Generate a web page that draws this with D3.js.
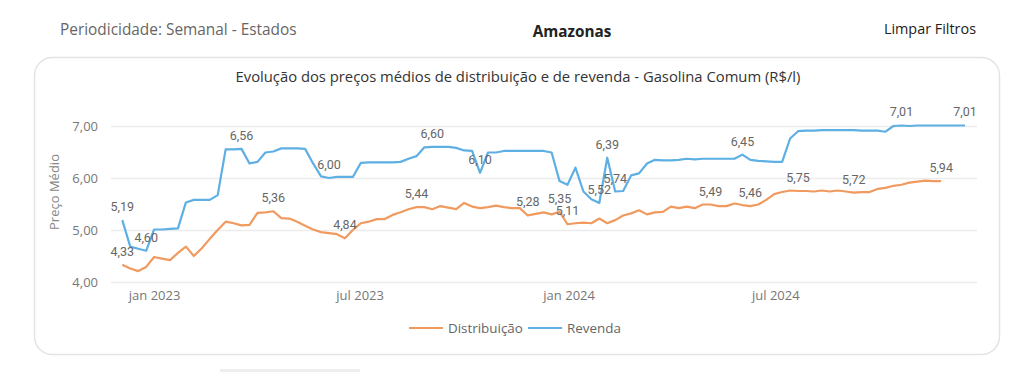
<!DOCTYPE html>
<html>
<head>
<meta charset="utf-8">
<script src="https://cdn.jsdelivr.net/npm/d3@7"></script>
<style>
  body { margin: 0; background: #fff; }
  svg { display: block; }
</style>
</head>
<body>
<script>
// weekly average prices, Amazonas, gasolina comum (R$/l), weeks starting 04/12/2022
const firstWeek = new Date(2022, 11, 4);

const revenda = [
  5.19, 4.68, 4.64, 4.60, 5.01, 5.01, 5.02, 5.03, 5.53, 5.58,
  5.58, 5.58, 5.67, 6.55, 6.55, 6.56, 6.28, 6.31, 6.49, 6.51,
  6.57, 6.57, 6.57, 6.56, 6.28, 6.03, 6.00, 6.02, 6.02, 6.02,
  6.29, 6.30, 6.30, 6.30, 6.30, 6.31, 6.37, 6.42, 6.59, 6.60,
  6.60, 6.60, 6.58, 6.53, 6.52, 6.10, 6.49, 6.49, 6.52, 6.52,
  6.52, 6.52, 6.52, 6.52, 6.49, 5.94, 5.87, 6.20, 5.74, 5.59,
  5.52, 6.39, 5.74, 5.75, 6.05, 6.09, 6.28, 6.35, 6.34, 6.34,
  6.35, 6.37, 6.36, 6.37, 6.37, 6.37, 6.37, 6.37, 6.45, 6.35,
  6.33, 6.32, 6.31, 6.31, 6.76, 6.90, 6.91, 6.91, 6.92, 6.92,
  6.92, 6.92, 6.92, 6.91, 6.91, 6.91, 6.89, 7.00, 7.01, 7.00,
  7.01, 7.01, 7.01, 7.01, 7.01, 7.01, 7.01
];

const distribuicao = [
  4.33, 4.26, 4.21, 4.29, 4.48, 4.45, 4.42, 4.56, 4.68, 4.50,
  4.65, 4.83, 5.00, 5.16, 5.13, 5.09, 5.10, 5.33, 5.34, 5.36,
  5.23, 5.22, 5.16, 5.08, 5.01, 4.96, 4.94, 4.92, 4.84, 5.00,
  5.13, 5.16, 5.21, 5.21, 5.29, 5.34, 5.40, 5.44, 5.44, 5.40,
  5.46, 5.43, 5.40, 5.52, 5.45, 5.42, 5.44, 5.47, 5.44, 5.42,
  5.42, 5.28, 5.31, 5.34, 5.30, 5.35, 5.11, 5.13, 5.14, 5.13,
  5.22, 5.13, 5.19, 5.28, 5.32, 5.38, 5.30, 5.34, 5.35, 5.45,
  5.42, 5.45, 5.42, 5.49, 5.49, 5.46, 5.46, 5.51, 5.48, 5.46,
  5.49, 5.58, 5.69, 5.73, 5.76, 5.75, 5.75, 5.74, 5.76, 5.74,
  5.76, 5.74, 5.72, 5.73, 5.73, 5.79, 5.81, 5.85, 5.87, 5.91,
  5.93, 5.95, 5.94, 5.94
];

// weeks that get a data label
const revendaLabelWeeks = [0, 3, 15, 26, 39, 45, 60, 61, 62, 78, 98, 106];
const distribuicaoLabelWeeks = [0, 19, 28, 37, 51, 55, 56, 74, 79, 85, 92, 103];

const yTicks = [4, 5, 6, 7];
const xTickDates = [new Date(2023, 0, 1), new Date(2023, 6, 1), new Date(2024, 0, 1), new Date(2024, 6, 1)];
const xTickLabels = ["jan 2023", "jul 2023", "jan 2024", "jul 2024"];

const seriesNames = ["Distribuição", "Revenda"];
const colors = ["#F09A5F", "#5EAFE3"];

const ptBR = d3.formatLocale({decimal: ",", thousands: ".", grouping: [3], currency: ["R$ ", ""]});
const fmt = ptBR.format(".2f");

const width = 1024, height = 372;
const svg = d3.select("body").append("svg")
    .attr("width", width)
    .attr("height", height);

// header
svg.append("text")
    .attr("x", 60).attr("y", 35)
    .style("font-family", "'Open Sans', sans-serif")
    .style("font-size", "15.4px")
    .attr("fill", "#666")
    .text("Periodicidade: Semanal - Estados");

svg.append("text")
    .attr("x", 572).attr("y", 37)
    .attr("text-anchor", "middle")
    .style("font-family", "'Open Sans', sans-serif")
    .style("font-size", "15.3px")
    .style("font-weight", "bold")
    .attr("fill", "#222")
    .text("Amazonas");

svg.append("text")
    .attr("x", 976).attr("y", 34)
    .attr("text-anchor", "end")
    .style("font-family", "'Open Sans', sans-serif")
    .style("font-size", "14.4px")
    .attr("fill", "#222")
    .text("Limpar Filtros");

// card
svg.append("rect")
    .attr("x", 34.5).attr("y", 57.5)
    .attr("width", 965).attr("height", 297)
    .attr("rx", 18)
    .attr("fill", "#fff")
    .attr("stroke", "#e4e4e4")
    .attr("stroke-width", 1.5);

svg.append("rect")
    .attr("x", 220).attr("y", 369)
    .attr("width", 140).attr("height", 3)
    .attr("fill", "#eeeeee");

svg.append("text")
    .attr("x", 518).attr("y", 82)
    .attr("text-anchor", "middle")
    .style("font-family", "'Open Sans', sans-serif")
    .style("font-size", "14.8px")
    .attr("fill", "#333")
    .text("Evolução dos preços médios de distribuição e de revenda - Gasolina Comum (R$/l)");

// scales
const weeks = d3.range(revenda.length).map(i => d3.timeWeek.offset(firstWeek, i));
const x = d3.scaleTime()
    .domain([weeks[0], weeks[weeks.length - 1]])
    .range([122.3, 965]);
const y = d3.scaleLinear()
    .domain([4, 7])
    .range([282, 126]);

const plotLeft = 111, plotRight = 977;

// y axis + gridlines
const yAxis = svg.append("g")
    .attr("transform", `translate(${plotLeft},0)`)
    .call(d3.axisLeft(y)
        .tickValues(yTicks)
        .tickFormat(fmt)
        .tickSize(-(plotRight - plotLeft))
        .tickPadding(13));
yAxis.select(".domain").remove();
yAxis.selectAll(".tick line").attr("stroke", "#ececec").attr("stroke-width", 1.5);
yAxis.selectAll(".tick text")
    .attr("fill", "#777")
    .style("font-family", "'Open Sans', sans-serif")
    .style("font-size", "13px");

svg.append("text")
    .attr("transform", "translate(59,192) rotate(-90)")
    .attr("text-anchor", "middle")
    .style("font-family", "'Open Sans', sans-serif")
    .style("font-size", "13px")
    .attr("fill", "#888")
    .text("Preço Médio");

// x axis
const xAxis = svg.append("g")
    .attr("transform", "translate(0,282)")
    .call(d3.axisBottom(x)
        .tickValues(xTickDates)
        .tickFormat((d, i) => xTickLabels[i])
        .tickSize(0)
        .tickPadding(9));
xAxis.select(".domain").remove();
xAxis.selectAll(".tick text")
    .attr("fill", "#777")
    .style("font-family", "'Open Sans', sans-serif")
    .style("font-size", "13px");

// lines
const line = d3.line()
    .x((d, i) => x(weeks[i]))
    .y(d => y(d));

[distribuicao, revenda].forEach((s, k) => {
    svg.append("path")
        .datum(s)
        .attr("fill", "none")
        .attr("stroke", colors[k])
        .attr("stroke-width", 2.2)
        .attr("stroke-linejoin", "round")
        .attr("d", line);
});

// data labels
const labelSets = [
    {values: distribuicao, idx: distribuicaoLabelWeeks},
    {values: revenda, idx: revendaLabelWeeks}
];
labelSets.forEach(set => {
    svg.append("g")
        .selectAll("text")
        .data(set.idx)
        .enter()
        .append("text")
        .attr("x", i => x(weeks[i]))
        .attr("y", i => y(set.values[i]) - 9)
        .attr("text-anchor", "middle")
        .style("font-family", "Roboto, sans-serif")
        .style("font-size", "12.5px")
        .attr("fill", "#666")
        .text(i => fmt(set.values[i]));
});

// legend
const legend = svg.append("g")
    .attr("transform", "translate(409,328)");
const legendX = [0, 119];
seriesNames.forEach((name, k) => {
    const g = legend.append("g").attr("transform", `translate(${legendX[k]},0)`);
    g.append("line")
        .attr("x1", 0).attr("x2", 34)
        .attr("stroke", colors[k])
        .attr("stroke-width", 2.2);
    g.append("text")
        .attr("x", 39).attr("y", 4.7)
        .style("font-family", "'Open Sans', sans-serif")
        .style("font-size", "13.4px")
        .attr("fill", "#666")
        .text(name);
});
</script>
</body>
</html>
